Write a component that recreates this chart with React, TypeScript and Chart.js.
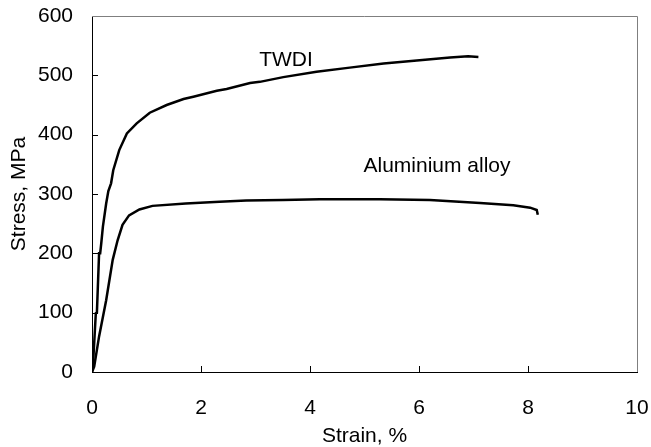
import React, { useEffect, useRef } from "react";
import { Chart, registerables } from "chart.js";

Chart.register(...registerables);

// TWDI stress-strain curve
const twdiStrain = [0, 0.02, 0.07, 0.09, 0.13, 0.15, 0.17, 0.2, 0.26, 0.3, 0.35, 0.39, 0.5, 0.64, 0.82, 1.06, 1.37, 1.68, 1.86, 2.29, 2.47, 2.9, 3.08, 3.51, 4.12, 4.73, 5.35, 5.96, 6.57, 6.9, 7.09];
const twdiStress = [0, 15, 99, 100, 200, 200, 217, 245, 284, 305, 318, 340, 374, 402, 419, 437, 450, 460, 464, 474, 477, 487, 489, 497, 506, 513, 520, 525, 530, 532, 531];

// Aluminium alloy stress-strain curve
const alStrain = [0, 0.04, 0.13, 0.26, 0.38, 0.47, 0.56, 0.68, 0.87, 1.11, 1.72, 2.34, 2.83, 3.5, 4.18, 5.28, 6.2, 7.12, 7.73, 8.04, 8.16, 8.18];
const alStress = [0, 9, 60, 121, 189, 222, 248, 264, 274, 280, 284, 287, 289, 290, 291, 291, 290, 285, 281, 277, 273, 265];

// Axis ticks
const xTicks = [0, 2, 4, 6, 8, 10];
const yTicks = [0, 100, 200, 300, 400, 500, 600];

// Curve labels (in data coordinates)
const curveLabels = [
  { text: "TWDI", x: 3.56, y: 525 },
  { text: "Aluminium alloy", x: 6.33, y: 347 },
];

const FONT = "'Liberation Sans', Arial, sans-serif";

export default function App() {
  const ref = useRef<HTMLCanvasElement | null>(null);

  useEffect(() => {
    if (!ref.current) return;
    const framePlugin = {
      id: "frame",
      afterDatasetsDraw(chart: any) {
        const ctx = chart.ctx;
        const xs = chart.scales.x;
        const ys = chart.scales.y;
        const a = chart.chartArea;
        ctx.save();
        // top and right frame
        ctx.strokeStyle = "#7f7f7f";
        ctx.lineWidth = 1;
        ctx.beginPath();
        ctx.moveTo(a.left, Math.round(a.top) + 0.5);
        ctx.lineTo(Math.round(a.right) + 0.5, Math.round(a.top) + 0.5);
        ctx.lineTo(Math.round(a.right) + 0.5, a.bottom);
        ctx.stroke();
        // inner ticks
        ctx.strokeStyle = "#000";
        ctx.beginPath();
        yTicks.forEach((v) => {
          if (v === 0 || v === 600) return;
          const y = Math.round(ys.getPixelForValue(v)) + 0.5;
          ctx.moveTo(a.left, y);
          ctx.lineTo(a.left + 6, y);
        });
        xTicks.forEach((v) => {
          if (v === 0 || v === 10) return;
          const x = Math.round(xs.getPixelForValue(v)) + 0.5;
          ctx.moveTo(x, a.bottom);
          ctx.lineTo(x, a.bottom - 6);
        });
        ctx.stroke();
        // curve labels
        ctx.fillStyle = "#000";
        ctx.font = `21px ${FONT}`;
        ctx.textAlign = "center";
        ctx.textBaseline = "middle";
        curveLabels.forEach((l) => {
          ctx.fillText(l.text, xs.getPixelForValue(l.x), ys.getPixelForValue(l.y));
        });
        ctx.restore();
      },
    };

    const chart = new Chart(ref.current, {
      type: "line",
      data: {
        datasets: [
          {
            label: "TWDI",
            data: twdiStrain.map((x, i) => ({ x, y: twdiStress[i] })),
            borderColor: "#000",
            borderWidth: 2.5,
            pointRadius: 0,
            tension: 0,
          },
          {
            label: "Aluminium alloy",
            data: alStrain.map((x, i) => ({ x, y: alStress[i] })),
            borderColor: "#000",
            borderWidth: 2.5,
            pointRadius: 0,
            tension: 0,
          },
        ],
      },
      options: {
        animation: false,
        responsive: false,
        events: [],
        layout: { padding: { top: 16, right: 14, left: 0, bottom: 0 } },
        plugins: { legend: { display: false }, tooltip: { enabled: false } },
        scales: {
          x: {
            type: "linear",
            min: 0,
            max: 10,
            afterFit: (s: any) => {
              s.height = 75;
              s.paddingLeft = 0;
              s.paddingRight = 0;
              s.paddingTop = 0;
              s.paddingBottom = 0;
            },
            afterBuildTicks: (s: any) => {
              s.ticks = xTicks.map((v) => ({ value: v }));
            },
            grid: { display: false, drawTicks: false },
            border: { display: true, color: "#000", width: 1 },
            ticks: {
              color: "#000",
              padding: 24,
              font: { family: FONT, size: 21 },
            },
            title: {
              display: true,
              text: "Strain, %",
              color: "#000",
              font: { family: FONT, size: 21, lineHeight: 1 },
              padding: { top: 0, bottom: 0 },
            },
          },
          y: {
            type: "linear",
            min: 0,
            max: 600,
            afterFit: (s: any) => {
              s.width = 92;
              s.paddingLeft = 0;
              s.paddingRight = 0;
              s.paddingTop = 0;
              s.paddingBottom = 0;
            },
            afterBuildTicks: (s: any) => {
              s.ticks = yTicks.map((v) => ({ value: v }));
            },
            grid: { display: false, drawTicks: false },
            border: { display: true, color: "#000", width: 1 },
            ticks: {
              color: "#000",
              padding: 19,
              font: { family: FONT, size: 21 },
            },
            title: {
              display: true,
              text: "Stress, MPa",
              color: "#000",
              font: { family: FONT, size: 21, lineHeight: 1 },
              padding: { top: 9, bottom: 0 },
            },
          },
        },
      },
      plugins: [framePlugin],
    });
    return () => chart.destroy();
  }, []);

  return (
    <div style={{ position: "fixed", left: 0, top: 0, width: 651, height: 447, background: "#fff" }}>
      <canvas ref={ref} width={651} height={447} style={{ display: "block" }} />
    </div>
  );
}
